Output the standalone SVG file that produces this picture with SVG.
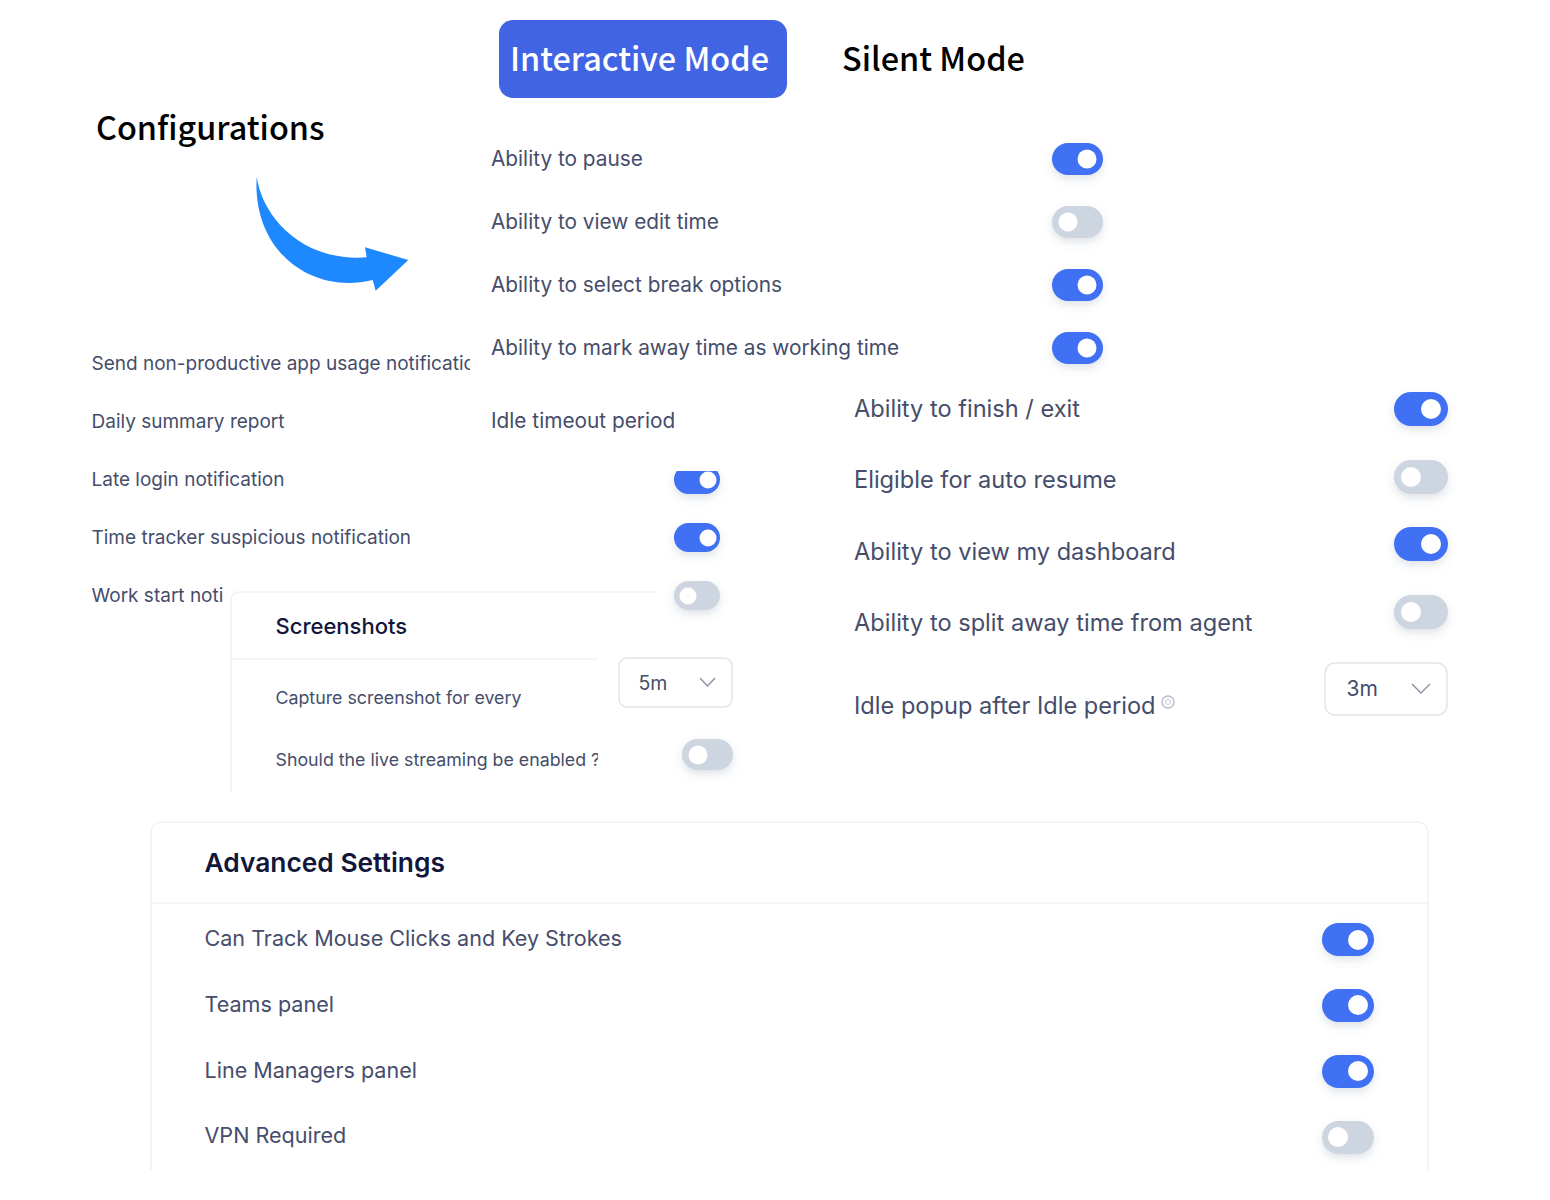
<svg xmlns="http://www.w3.org/2000/svg" width="1550" height="1200" viewBox="0 0 1550 1200">
<defs>
<style>
.title{font-family:"Noto Sans CJK SC","Noto Sans","Liberation Sans",sans-serif;font-weight:500;fill:#000}
.lbl{font-family:Inter,"Liberation Sans",sans-serif;fill:#454d6b}
.hd{font-family:Inter,"Liberation Sans",sans-serif;font-weight:600;fill:#11163a}
.rule{stroke:#f1f2f5;stroke-width:1.5;fill:none}
.sel{fill:#fff;stroke:#e2e4ec;stroke-width:1.5}
.chev{fill:none;stroke:#8b90a5;stroke-width:1.4}
.on{fill:#3f6ff3}
.off{fill:#cdd5e0}
.knob{fill:#fff}
</style>
<filter id="sh" x="-30%" y="-30%" width="160%" height="190%"><feDropShadow dx="0" dy="4" stdDeviation="4" flood-color="#64748b" flood-opacity="0.2"/></filter>
<clipPath id="c1"><rect x="85" y="345" width="385" height="40"/></clipPath>
<clipPath id="c2"><rect x="270" y="740" width="328" height="40"/></clipPath>
<clipPath id="c3"><rect x="660" y="471" width="70" height="40"/></clipPath>
</defs>
<rect width="1550" height="1200" fill="#fff"/>

<g id="tab-interactive"><rect x="499" y="20" width="288" height="78" rx="14" fill="#4164e4"/><text x="510" y="71" font-size="32.400" class="title" style="fill:#fff">Interactive Mode</text></g>
<g id="tab-silent"><text x="842" y="71" font-size="32.400" class="title">Silent Mode</text></g>
<g id="configurations"><text x="96" y="140" font-size="32.400" class="title">Configurations</text></g>
<g id="connectors"><path d="M256.700 176.700C262 215 300 262 366.700 257.300L365 247.300L408.300 260L375.700 290.700L372.700 280C310 295 252 250 256.700 176.700Z" fill="#1e88ff"/></g>

<g id="pause"><text x="491" y="165.500" font-size="20.800" class="lbl">Ability to pause</text><g filter="url(#sh)"><rect x="1052" y="143" width="51" height="32" rx="16" class="on"/></g><circle cx="1087" cy="159" r="9.500" class="knob"/></g>
<g id="edit-time"><text x="491" y="228.500" font-size="20.800" class="lbl">Ability to view edit time</text><g filter="url(#sh)"><rect x="1052" y="206" width="51" height="32" rx="16" class="off"/></g><circle cx="1068" cy="222" r="9.500" class="knob"/></g>
<g id="break-options"><text x="491" y="291.500" font-size="20.800" class="lbl">Ability to select break options</text><g filter="url(#sh)"><rect x="1052" y="269" width="51" height="32" rx="16" class="on"/></g><circle cx="1087" cy="285" r="9.500" class="knob"/></g>
<g id="away-time"><text x="491" y="354.500" font-size="20.800" class="lbl">Ability to mark away time as working time</text><g filter="url(#sh)"><rect x="1052" y="332" width="51" height="32" rx="16" class="on"/></g><circle cx="1087" cy="348" r="9.500" class="knob"/></g>
<g id="idle-timeout"><text x="491" y="427.500" font-size="20.800" class="lbl">Idle timeout period</text></g>

<g id="non-productive"><text x="91.500" y="370" font-size="19" class="lbl" clip-path="url(#c1)">Send non-productive app usage notification</text></g>
<g id="daily-summary"><text x="91.500" y="428" font-size="19" class="lbl">Daily summary report</text></g>
<g id="late-login"><text x="91.500" y="486" font-size="19" class="lbl">Late login notification</text><g clip-path="url(#c3)"><g filter="url(#sh)"><rect x="674" y="465" width="46" height="29" rx="14.500" class="on"/></g><circle cx="708" cy="480" r="8.500" class="knob"/></g></g>
<g id="suspicious"><text x="91.500" y="544" font-size="19" class="lbl">Time tracker suspicious notification</text><g filter="url(#sh)"><rect x="674" y="523" width="46" height="29" rx="14.500" class="on"/></g><circle cx="708" cy="538" r="8.500" class="knob"/></g>
<g id="work-start"><text x="91.500" y="602" font-size="19" class="lbl">Work start noti</text><g filter="url(#sh)"><rect x="674" y="581" width="46" height="29" rx="14.500" class="off"/></g><circle cx="688" cy="596" r="8.500" class="knob"/></g>

<g id="screenshots">
<path d="M231 792V600Q231 592 239 592H657" class="rule"/>
<path d="M231 659H598" class="rule"/>
<text x="275.500" y="634" font-size="22" class="hd" style="font-weight:500">Screenshots</text>
<text x="275.500" y="703.500" font-size="17.800" class="lbl">Capture screenshot for every</text>
<text x="275.500" y="766" font-size="17.800" class="lbl" clip-path="url(#c2)">Should the live streaming be enabled ?</text>
</g>
<g id="capture-select"><rect x="619" y="658" width="113" height="49" rx="8" class="sel"/><text x="638.500" y="689.500" font-size="19.500" class="lbl">5m</text><path d="M700 678l7.500 8l7.500-8" class="chev"/></g>
<g id="live-streaming"><g filter="url(#sh)"><rect x="682" y="739" width="51" height="31" rx="15.500" class="off"/></g><circle cx="698" cy="755" r="9.500" class="knob"/></g>

<g id="finish"><text x="854" y="416.500" font-size="23.600" class="lbl">Ability to finish / exit</text><g filter="url(#sh)"><rect x="1394" y="392" width="54" height="34" rx="17" class="on"/></g><circle cx="1431" cy="409" r="10" class="knob"/></g>
<g id="auto-resume"><text x="854" y="488" font-size="23.600" class="lbl">Eligible for auto resume</text><g filter="url(#sh)"><rect x="1394" y="460" width="54" height="34" rx="17" class="off"/></g><circle cx="1411" cy="477" r="10" class="knob"/></g>
<g id="dashboard"><text x="854" y="560" font-size="23.600" class="lbl">Ability to view my dashboard</text><g filter="url(#sh)"><rect x="1394" y="527" width="54" height="34" rx="17" class="on"/></g><circle cx="1431" cy="544" r="10" class="knob"/></g>
<g id="split-away"><text x="854" y="631" font-size="23.600" class="lbl">Ability to split away time from agent</text><g filter="url(#sh)"><rect x="1394" y="595" width="54" height="34" rx="17" class="off"/></g><circle cx="1411" cy="612" r="10" class="knob"/></g>
<g id="idle-popup"><text x="854" y="714" font-size="23.600" class="lbl">Idle popup after Idle period</text><circle cx="1168" cy="702" r="6" fill="none" stroke="#b4b9c8" stroke-width="1.300"/><circle cx="1168" cy="702" r="2.500" fill="none" stroke="#c4c8d4" stroke-width="1"/></g>
<g id="idle-select"><rect x="1325" y="663" width="122" height="52" rx="10" class="sel"/><text x="1346.500" y="696" font-size="21" class="lbl">3m</text><path d="M1412 684l9 9l9-9" class="chev"/></g>

<g id="advanced">
<path d="M151 1170V834Q151 822 163 822H1416Q1428 822 1428 834V1170" class="rule"/>
<path d="M151 903H1428" class="rule"/>
<text x="204.500" y="872" font-size="26.350" class="hd">Advanced Settings</text>
</g>
<g id="mouse-clicks"><text x="204.500" y="946" font-size="21.550" class="lbl">Can Track Mouse Clicks and Key Strokes</text><g filter="url(#sh)"><rect x="1322" y="923" width="52" height="33" rx="16.500" class="on"/></g><circle cx="1358" cy="940" r="10" class="knob"/></g>
<g id="teams"><text x="204.500" y="1012" font-size="21.550" class="lbl">Teams panel</text><g filter="url(#sh)"><rect x="1322" y="989" width="52" height="33" rx="16.500" class="on"/></g><circle cx="1358" cy="1005" r="10" class="knob"/></g>
<g id="line-managers"><text x="204.500" y="1078" font-size="21.550" class="lbl">Line Managers panel</text><g filter="url(#sh)"><rect x="1322" y="1055" width="52" height="33" rx="16.500" class="on"/></g><circle cx="1358" cy="1071" r="10" class="knob"/></g>
<g id="vpn"><text x="204.500" y="1143" font-size="21.550" class="lbl">VPN Required</text><g filter="url(#sh)"><rect x="1322" y="1121" width="52" height="33" rx="16.500" class="off"/></g><circle cx="1338" cy="1137" r="10" class="knob"/></g>
</svg>
